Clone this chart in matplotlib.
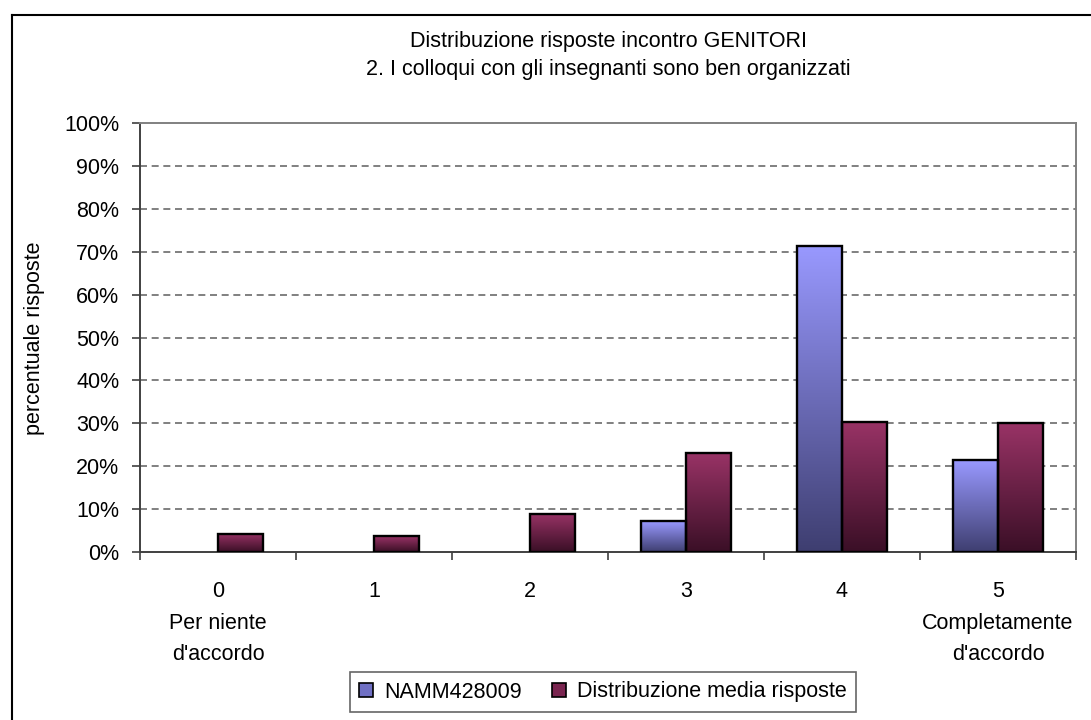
import matplotlib
matplotlib.use("Agg")
import matplotlib.pyplot as plt
import numpy as np
from matplotlib.patches import Patch
from matplotlib.lines import Line2D

plt.rcParams['font.family'] = ['Liberation Sans', 'DejaVu Sans']

categories = ["0\nPer niente\nd'accordo", "1", "2", "3", "4", "5\nCompletamente\nd'accordo"]
series_names = ["NAMM428009", "Distribuzione media risposte"]
namm = [0.0, 0.0, 0.0, 7.14, 71.43, 21.43]
media = [4.2, 3.7, 8.9, 23.0, 30.4, 30.0]
yticks = [0, 10, 20, 30, 40, 50, 60, 70, 80, 90, 100]
title1 = "Distribuzione risposte incontro GENITORI"
title2 = "2. I colloqui con gli insegnanti sono ben organizzati"
ylabel = "percentuale risposte"

FS = 15.5
W, H = 1091, 720
fig = plt.figure(figsize=(W / 100, H / 100), dpi=100)
ax = fig.add_axes([140 / W, 1 - 552 / H, (1076 - 140) / W, (552 - 123) / H])

grads = [("#9999FF", "#3E3E70"), ("#993366", "#3A0F26")]
width = 1 / 3.5
x = np.arange(len(categories))
for i, (vals, (ctop, cbot)) in enumerate(zip([namm, media], grads)):
    bars = ax.bar(x + (i - 0.5) * width, vals, width, align='center',
                  facecolor='none', edgecolor='black', linewidth=1.7, zorder=4)
    c1 = np.array(matplotlib.colors.to_rgb(ctop))
    c2 = np.array(matplotlib.colors.to_rgb(cbot))
    t = np.linspace(0, 1, 256)[:, None]
    img = (c1[None, :] * (1 - t) + c2[None, :] * t)[:, None, :]
    for b in bars:
        if b.get_height() <= 0:
            b.set_visible(False)
            continue
        x0, y0 = b.get_x(), b.get_y()
        ax.imshow(img, extent=(x0, x0 + b.get_width(), y0, y0 + b.get_height()),
                  origin='upper', aspect='auto', zorder=3, interpolation='bilinear')

ax.set_xlim(-0.5, len(categories) - 0.5)
ax.set_ylim(0, 100)
ax.set_yticks(yticks)
ax.set_yticklabels([f"{v}%" for v in yticks], fontsize=FS)
ax.set_xticks(x)
ax.set_xticklabels(categories, fontsize=FS, linespacing=1.66)
ax.set_xticks(np.arange(-0.5, len(categories), 1), minor=True)
ax.tick_params(axis='x', which='major', length=0, pad=21)
ax.tick_params(axis='x', which='minor', length=6, width=1.2, color='#404040', direction='out')
ax.tick_params(axis='y', length=6, width=1.2, color='#404040', direction='out', pad=9)

for yv in yticks[1:-1]:
    ax.axhline(yv, color='#808080', linestyle=(0, (3.6, 2.4)), linewidth=1.4, zorder=1)

for s in ['left', 'bottom']:
    ax.spines[s].set_color('#404040')
    ax.spines[s].set_linewidth(1.4)
for s in ['top', 'right']:
    ax.spines[s].set_color('#808080')
    ax.spines[s].set_linewidth(1.4)
ax.set_zorder(1)

fig.text(608 / W, 1 - 41 / H, title1, ha='center', va='center', fontsize=FS)
fig.text(608 / W, 1 - 70 / H, title2, ha='center', va='center', fontsize=FS)
fig.text(35 / W, 1 - 338 / H, ylabel, ha='center', va='center', rotation=90, fontsize=FS)

# outer chart border (top and left visible)
fig.add_artist(Line2D([12 / W, 12 / W], [0, 1 - 15 / H], transform=fig.transFigure,
                      color='black', linewidth=1.5))
fig.add_artist(Line2D([12 / W, 1], [1 - 15 / H, 1 - 15 / H], transform=fig.transFigure,
                      color='black', linewidth=1.5))

handles = [Patch(facecolor="#7070C4", edgecolor='black', linewidth=1.2),
           Patch(facecolor="#7A2550", edgecolor='black', linewidth=1.2)]
leg = fig.legend(handles, series_names, loc='center', bbox_to_anchor=(603 / W, 1 - 692 / H),
                 ncol=2, fontsize=FS, frameon=True, fancybox=False, handlelength=0.65,
                 handleheight=0.65, handletextpad=0.5, columnspacing=1.4, borderpad=0.45,
                 borderaxespad=0)
leg.get_frame().set_edgecolor('#404040')
leg.get_frame().set_linewidth(1.2)

fig.savefig("out.png", dpi=100)
